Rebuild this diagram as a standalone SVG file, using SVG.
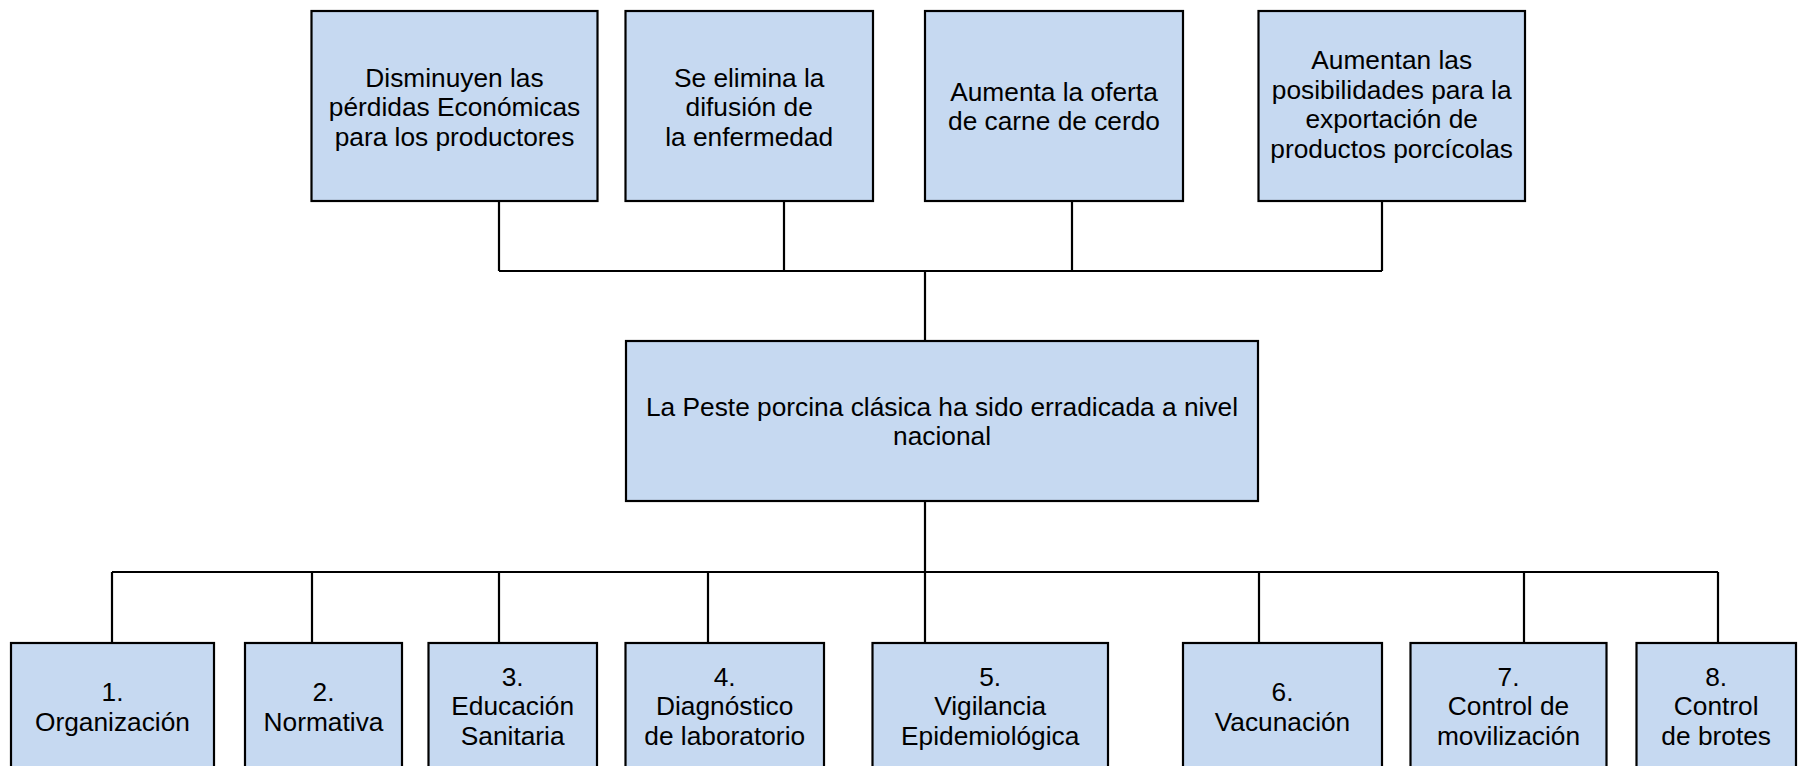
<svg xmlns="http://www.w3.org/2000/svg" width="1807" height="766" viewBox="0 0 1807 766">
<style>
.box{fill:#C6D9F1;stroke:#000;stroke-width:2.2}
.t{font-family:"Liberation Sans",Arial,sans-serif;font-size:26.3px;fill:#000;text-anchor:middle}
.c{fill:none;stroke:#000;stroke-width:2.2}
</style>
<rect width="1807" height="766" fill="#fff"/>
<g id="connectors">
<path class="c" d="M499 201V271M784 201V271M1072 201V271M1382 201V271M499 271H1382M925 271V341"/>
<path class="c" d="M925 501V572M112 572H1718M112 572V643M312 572V643M499 572V643M708 572V643M925 572V643M1259 572V643M1524 572V643M1718 572V643"/>
</g>
<g id="e1"><rect class="box" x="311.5" y="11" width="286" height="190"/>
<text class="t"><tspan x="454.5" y="86.5">Disminuyen las</tspan><tspan x="454.5" y="116">pérdidas Económicas</tspan><tspan x="454.5" y="145.5">para los productores</tspan></text></g>
<g id="e2"><rect class="box" x="625.5" y="11" width="247.5" height="190"/>
<text class="t"><tspan x="749.2" y="86.5">Se elimina la</tspan><tspan x="749.2" y="116">difusión de</tspan><tspan x="749.2" y="145.5">la enfermedad</tspan></text></g>
<g id="e3"><rect class="box" x="925" y="11" width="258" height="190"/>
<text class="t"><tspan x="1054" y="100.5">Aumenta la oferta</tspan><tspan x="1054" y="130">de carne de cerdo</tspan></text></g>
<g id="e4"><rect class="box" x="1258.5" y="11" width="266.5" height="190"/>
<text class="t"><tspan x="1391.7" y="69">Aumentan las</tspan><tspan x="1391.7" y="98.5">posibilidades para la</tspan><tspan x="1391.7" y="128">exportación de</tspan><tspan x="1391.7" y="157.5">productos porcícolas</tspan></text></g>
<g id="goal"><rect class="box" x="626" y="341" width="632" height="160"/>
<text class="t"><tspan x="942" y="415.5">La Peste porcina clásica ha sido erradicada a nivel</tspan><tspan x="942" y="445">nacional</tspan></text></g>
<g id="c1"><rect class="box" x="11" y="643" width="203" height="150"/>
<text class="t"><tspan x="112.5" y="701">1.</tspan><tspan x="112.5" y="730.5">Organización</tspan></text></g>
<g id="c2"><rect class="box" x="245" y="643" width="157" height="150"/>
<text class="t"><tspan x="323.5" y="701">2.</tspan><tspan x="323.5" y="730.5">Normativa</tspan></text></g>
<g id="c3"><rect class="box" x="428.5" y="643" width="168.5" height="150"/>
<text class="t"><tspan x="512.7" y="685.5">3.</tspan><tspan x="512.7" y="715">Educación</tspan><tspan x="512.7" y="744.5">Sanitaria</tspan></text></g>
<g id="c4"><rect class="box" x="625.5" y="643" width="198.5" height="150"/>
<text class="t"><tspan x="724.7" y="685.5">4.</tspan><tspan x="724.7" y="715">Diagnóstico</tspan><tspan x="724.7" y="744.5">de laboratorio</tspan></text></g>
<g id="c5"><rect class="box" x="872.5" y="643" width="235.5" height="150"/>
<text class="t"><tspan x="990.2" y="685.5">5.</tspan><tspan x="990.2" y="715">Vigilancia</tspan><tspan x="990.2" y="744.5">Epidemiológica</tspan></text></g>
<g id="c6"><rect class="box" x="1183" y="643" width="199" height="150"/>
<text class="t"><tspan x="1282.5" y="701">6.</tspan><tspan x="1282.5" y="730.5">Vacunación</tspan></text></g>
<g id="c7"><rect class="box" x="1410.5" y="643" width="196" height="150"/>
<text class="t"><tspan x="1508.5" y="685.5">7.</tspan><tspan x="1508.5" y="715">Control de</tspan><tspan x="1508.5" y="744.5">movilización</tspan></text></g>
<g id="c8"><rect class="box" x="1636.5" y="643" width="159.5" height="150"/>
<text class="t"><tspan x="1716.2" y="685.5">8.</tspan><tspan x="1716.2" y="715">Control</tspan><tspan x="1716.2" y="744.5">de brotes</tspan></text></g>
</svg>
